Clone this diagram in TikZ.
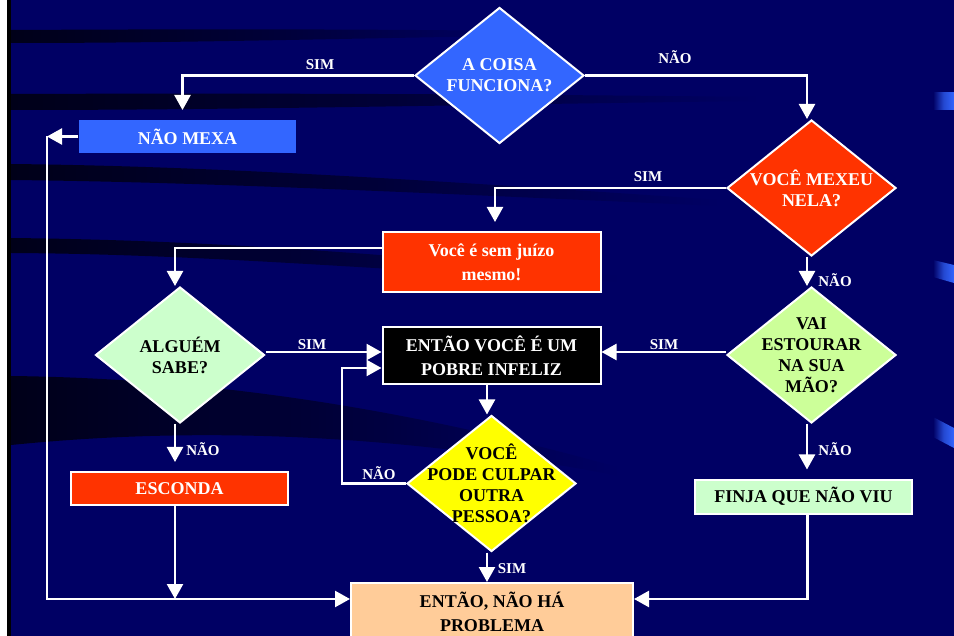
\documentclass[tikz,border=0pt]{standalone}
\usepackage{fontspec}
\setmainfont{Liberation Serif}
\usetikzlibrary{shapes.geometric,arrows.meta,calc}
\definecolor{navy}{RGB}{0,0,100}
\definecolor{bandc}{RGB}{0,0,25}
\definecolor{pblue}{RGB}{51,102,255}
\definecolor{pred}{RGB}{255,51,0}
\definecolor{pgreen}{RGB}{204,255,204}
\definecolor{plime}{RGB}{204,255,153}
\definecolor{pyellow}{RGB}{255,255,0}
\definecolor{ppeach}{RGB}{255,204,153}
\tikzset{
  dia/.style={diamond, draw=white, line width=2pt, minimum width=169pt, minimum height=136pt, inner sep=0pt, aspect=1.25},
  dtext/.style={font=\fontsize{18}{21}\selectfont\bfseries, align=center, inner sep=0pt},
  rbox/.style={rectangle, draw=white, line width=2pt, minimum width=217pt, inner sep=0pt, align=center, font=\fontsize{18}{24}\selectfont\bfseries},
  lbl/.style={font=\fontsize{15}{15}\selectfont\bfseries, text=white, inner sep=0pt},
  conn/.style={draw=white, line width=2.4pt},
  arr/.style={conn, -{Triangle[length=15pt,width=16pt]}},
  band/.style={left color=bandc, right color=navy, middle color=bandc!60!navy},
}
\begin{document}
\begin{tikzpicture}[x=1pt,y=1pt]
\useasboundingbox (0,0) rectangle (954,-636);
\fill[navy] (0,0) rectangle (954,-636);
% dark swooshes of the background
\shade[band] (11,-30) .. controls (200,-29) and (350,-29) .. (520,-31) -- (520,-36) .. controls (350,-38) and (200,-43) .. (11,-43) -- cycle;
\shade[band] (11,-94) .. controls (250,-93) and (500,-94) .. (760,-97) -- (760,-101) .. controls (500,-104) and (250,-110) .. (11,-110) -- cycle;
\shade[band] (11,-164) .. controls (200,-166) and (400,-178) .. (720,-200) -- (720,-206) .. controls (400,-192) and (200,-182) .. (11,-180) -- cycle;
\shade[band] (11,-238) .. controls (200,-240) and (380,-253) .. (620,-276) -- (620,-282) .. controls (380,-270) and (200,-254) .. (11,-253) -- cycle;
\shade[band] (11,-376) .. controls (180,-378) and (380,-400) .. (620,-468) -- (620,-476) .. controls (380,-430) and (180,-428) .. (11,-445) -- cycle;
% left edge
\fill[white] (0,0) rectangle (7,-636);
\fill[black] (7,0) rectangle (11,-636);
% right decorations
\shade[left color=navy, right color=pblue, middle color=pblue!70!navy] (933,-93) rectangle (954,-110);
\shade[left color=navy, right color=pblue, middle color=pblue!70!navy] (933,-260) -- (954,-265) -- (954,-283) -- (933,-277) -- cycle;
\shade[left color=navy, right color=pblue, middle color=pblue!70!navy] (933,-417) -- (954,-428) -- (954,-448) -- (933,-437) -- cycle;

% diamonds
\node[dia, fill=pblue] (d1) at (499.5,-75.5) {};
\node[dtext, text=white] (d1t) at (d1.center) {A COISA\\FUNCIONA?};
\node[dia, fill=pred] (d2) at (811.5,-188) {};
\node[dtext, text=white] (d2t) at (d2.center) {VOCÊ MEXEU\\NELA?};
\node[dia, fill=pgreen] (d3) at (180,-355) {};
\node[dtext] (d3t) at (d3.center) {ALGUÉM\\SABE?};
\node[dia, fill=plime] (d4) at (811.5,-355) {};
\node[dtext] (d4t) at (d4.center) {VAI\\ESTOURAR\\NA SUA\\MÃO?};
\node[dia, fill=pyellow] (d5) at (491.5,-483.5) {};
\node[dtext] (d5t) at (d5.center) {VOCÊ\\PODE CULPAR\\OUTRA\\PESSOA?};

% boxes
\node[rbox, fill=pblue, draw=none, minimum height=33pt, text=white] (nm) at (187.5,-136.5) {NÃO MEXA};
\node[rbox, fill=pred, minimum width=218pt, minimum height=60pt, text=white] (b2) at (491.5,-262) {Você é sem juízo\\mesmo!};
\node[rbox, fill=black, minimum width=218pt, minimum height=57pt, text=white] (b3) at (491.5,-356) {ENTÃO VOCÊ É UM\\POBRE INFELIZ};
\node[rbox, fill=pred, minimum height=33pt, text=white] (es) at (179.5,-488.5) {ESCONDA};
\node[rbox, fill=pgreen, minimum height=34pt] (fj) at (803.5,-496.5) {FINJA QUE NÃO VIU};
\node[rbox, fill=ppeach, minimum width=282pt, minimum height=58pt] (fin) at (492,-612) {ENTÃO, NÃO HÁ\\PROBLEMA};

% free corners
\coordinate (cA) at (47,-136.5);
\coordinate (cB) at (47,-599);
\coordinate (cE) at (175,-599);

% connectors
\draw[arr, shorten >=9pt] (d1.west) -| ([xshift=-5pt]nm.north);
\draw[arr] (d1.east) -| ([xshift=-4.5pt]d2.north);
\draw[arr, shorten >=9pt] (d2.west) -| ([xshift=3.5pt]b2.north);
\draw[arr] ([yshift=14pt]b2.west) -| ([xshift=-5pt]d3.north);
\draw[arr] ([yshift=3pt]d3.east) -- ([yshift=3pt]d3.east -| b3.west);
\draw[arr, shorten >=9pt] ([xshift=-5pt]d3.south) -- ([xshift=-4.5pt]es.north);
\draw[arr] ([xshift=-4.5pt]es.south) -- (cE);
\draw[arr] (nm.west) -- (cA);
\draw[arr] (cA) -- (cB) -- (fin.west |- cB);
\draw[arr] ([xshift=-4.5pt]d2.south) -- ([xshift=-4.5pt]d4.north);
\draw[arr] ([yshift=3pt]d4.west) -- ([yshift=3pt]d4.west -| b3.east);
\draw[arr, shorten >=9pt] ([xshift=-4.5pt]d4.south) -- ([xshift=-4.5pt]d4.south |- fj.north);
\draw[arr] ([xshift=4pt]fj.south) |- (fin.east |- cB);
\draw[arr] ([xshift=-4.5pt]b3.south) -- ([xshift=-4.5pt]d5.north);
\draw[arr] ([xshift=-4.5pt]d5.south) -- ([xshift=-4.5pt]d5.south |- fin.north);
\draw[arr] (d5.west) -- ++(-64,0) |- ([yshift=-12pt]b3.west);

% labels
\node[lbl] (l1) at (320,-65) {SIM};
\node[lbl] (l2) at (675,-57) {NÃO};
\node[lbl] (l3) at (648,-177) {SIM};
\node[lbl] (l4) at (835,-280) {NÃO};
\node[lbl] (l5) at (312,-345) {SIM};
\node[lbl] (l6) at (664,-345) {SIM};
\node[lbl] (l7) at (203,-449) {NÃO};
\node[lbl] (l8) at (835,-449) {NÃO};
\node[lbl] (l9) at (379,-473) {NÃO};
\node[lbl] (l10) at (512,-569) {SIM};
\end{tikzpicture}
\end{document}
